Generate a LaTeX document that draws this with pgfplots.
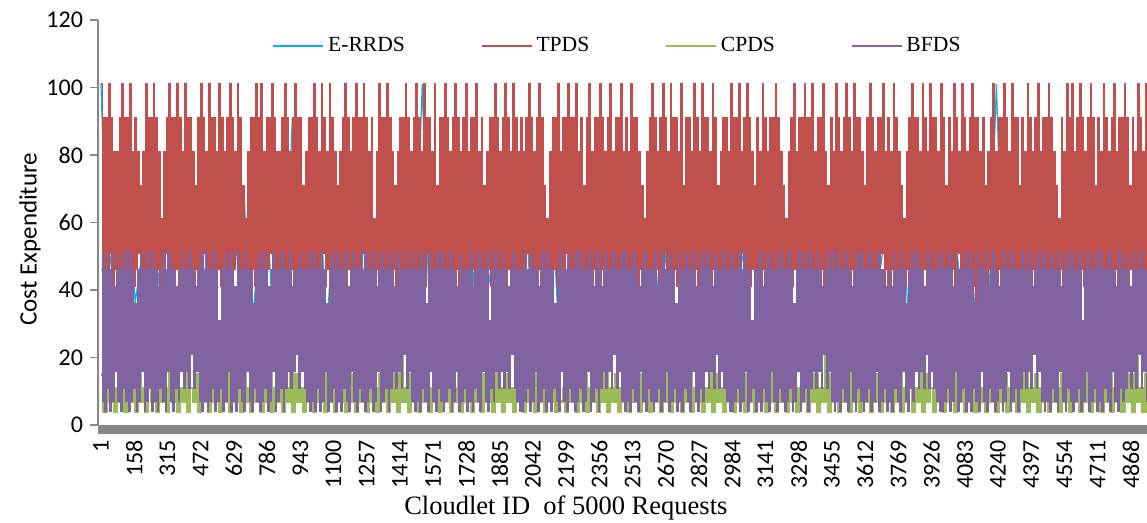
\documentclass[border=0pt]{standalone}
\usepackage{fontspec}
\setmainfont{Liberation Serif}
\newfontfamily\calib{Carlito}
\usepackage{pgfplots}
\usepackage{pgfplotstable}
\pgfplotsset{compat=1.18}
\definecolor{cErrds}{RGB}{0,176,240}
\definecolor{cTpds}{RGB}{192,80,77}
\definecolor{cCpds}{RGB}{155,187,89}
\definecolor{cBfds}{RGB}{128,100,162}
\definecolor{axgray}{RGB}{134,134,134}

\pgfplotstableread[header=false,row sep=\\]{
101\\ 41\\ 61\\ 26\\ 81\\ 36\\ 51\\ 71\\ 31\\ 61\\ 46\\ 91\\ 36\\ 56\\ 21\\ 71\\ 41\\ 61\\ 31\\ 81\\
46\\ 66\\ 26\\ 51\\ 76\\ 36\\ 61\\ 41\\ 91\\ 31\\ 56\\ 46\\ 71\\ 26\\ 61\\ 36\\ 81\\ 41\\ 51\\ 66\\
31\\ 71\\ 46\\ 56\\ 21\\ 61\\ 41\\ 101\\ 36\\ 51\\ 66\\ 31\\ 76\\ 46\\ 61\\ 26\\ 56\\ 41\\ 81\\ 36\\
61\\ 46\\ 71\\ 31\\ 51\\ 41\\ 66\\ 26\\ 91\\ 46\\ 56\\ 36\\ 71\\ 41\\ 61\\ 31\\ 81\\ 46\\ 51\\ 36\\
66\\ 26\\ 61\\ 41\\ 76\\ 31\\ 56\\ 46\\ 71\\ 36\\ 61\\ 21\\ 81\\ 41\\ 51\\ 66\\ 31\\ 91\\ 46\\ 56\\
36\\ 71\\ 41\\ 61\\ 26\\ 81\\ 46\\ 51\\ 36\\ 66\\ 31\\ 56\\ 41\\ 76\\ 46\\ 61\\ 26\\ 71\\ 36\\ 51\\
41\\ 81\\ 31\\ 61\\ 46\\ 56\\ 36\\ 71\\ 26\\ 61\\ 41\\ 101\\ 36\\ 51\\
}\errds

\pgfplotstableread[header=false,row sep=\\]{
101\\ 46\\ 91\\ 41\\ 91\\ 46\\ 101\\ 51\\ 91\\ 41\\ 81\\ 46\\ 81\\ 41\\ 91\\ 46\\ 101\\ 36\\ 91\\ 46\\
91\\ 41\\ 101\\ 46\\ 81\\ 41\\ 91\\ 46\\ 81\\ 51\\ 71\\ 46\\ 81\\ 41\\ 101\\ 46\\ 91\\ 41\\ 91\\ 46\\
101\\ 41\\ 91\\ 46\\ 81\\ 41\\ 61\\ 46\\ 81\\ 51\\ 91\\ 41\\ 101\\ 46\\ 91\\ 36\\ 91\\ 46\\ 101\\ 41\\
91\\ 46\\ 81\\ 41\\ 101\\ 46\\ 91\\ 41\\ 91\\ 46\\ 81\\ 41\\ 71\\ 46\\ 91\\ 41\\ 101\\ 46\\ 91\\ 51\\
81\\ 46\\ 101\\ 41\\ 91\\ 46\\ 91\\ 41\\ 81\\ 46\\ 101\\ 41\\ 91\\ 46\\ 81\\ 31\\ 91\\ 46\\ 101\\ 41\\
91\\ 46\\ 81\\ 51\\ 101\\ 41\\ 91\\ 46\\ 71\\ 41\\ 61\\ 46\\ 81\\ 41\\ 91\\ 46\\ 91\\ 41\\ 101\\ 46\\
91\\ 41\\ 101\\ 46\\ 81\\ 41\\ 91\\ 46\\ 91\\ 51\\ 101\\ 41\\ 91\\ 46\\ 81\\ 41\\ 81\\ 46\\ 91\\ 41\\
101\\ 46\\ 91\\ 41\\ 81\\ 46\\ 91\\ 36\\ 101\\ 41\\ 91\\ 46\\ 91\\ 41\\ 71\\ 46\\ 81\\ 41\\ 91\\ 46\\
91\\ 41\\ 101\\ 46\\ 91\\ 41\\ 81\\ 46\\ 101\\ 51\\ 91\\ 41\\ 81\\ 46\\ 101\\ 41\\ 91\\ 46\\ 81\\ 41\\
71\\ 46\\ 81\\ 41\\ 91\\ 46\\ 101\\ 41\\ 91\\ 46\\ 81\\ 41\\ 91\\ 46\\ 101\\ 41\\ 91\\ 46\\ 91\\ 51\\
101\\ 41\\ 91\\ 46\\ 81\\ 41\\ 91\\ 46\\ 61\\ 41\\ 81\\ 46\\ 101\\ 41\\ 91\\ 46\\ 91\\ 36\\ 101\\ 46\\
91\\ 41\\ 81\\ 46\\ 71\\ 41\\ 81\\ 46\\ 91\\ 41\\ 91\\ 46\\ 101\\ 41\\ 91\\ 46\\ 81\\ 41\\ 91\\ 46\\
101\\ 46\\ 91\\ 41\\ 81\\ 46\\ 101\\ 41\\ 91\\ 51\\ 91\\ 46\\ 81\\ 41\\ 101\\ 46\\ 71\\ 41\\ 91\\ 46\\
91\\ 41\\ 101\\ 46\\ 91\\ 41\\ 81\\ 46\\ 91\\ 41\\ 101\\ 46\\ 91\\ 31\\ 81\\ 46\\ 91\\ 41\\ 101\\ 46\\
81\\ 41\\ 91\\ 46\\ 91\\ 41\\ 101\\ 46\\ 81\\ 41\\ 91\\ 46\\ 71\\ 41\\ 81\\ 46\\ 91\\ 41\\ 91\\ 46\\
101\\ 41\\ 91\\ 46\\ 81\\ 41\\ 91\\ 46\\ 101\\ 41\\ 91\\ 46\\ 81\\ 46\\ 101\\ 36\\ 91\\ 41\\ 81\\ 46\\
91\\ 41\\ 81\\ 46\\ 91\\ 51\\ 101\\ 41\\ 91\\ 46\\ 81\\ 41\\ 91\\ 46\\ 101\\ 41\\ 91\\ 46\\ 71\\ 41\\
61\\ 46\\ 81\\ 41\\ 91\\ 46\\ 91\\ 41\\ 101\\ 46\\ 81\\ 41\\ 91\\ 46\\ 91\\ 51\\ 101\\ 41\\ 91\\ 46\\
91\\ 41\\ 101\\ 46\\ 81\\ 41\\ 91\\ 46\\ 71\\ 41\\ 91\\ 46\\ 101\\ 41\\ 81\\ 46\\ 91\\ 41\\ 91\\ 46\\
101\\ 46\\ 91\\ 41\\ 81\\ 36\\ 91\\ 46\\ 101\\ 41\\ 81\\ 46\\ 91\\ 41\\ 91\\ 46\\ 101\\ 41\\ 81\\ 46\\
91\\ 41\\ 81\\ 46\\ 101\\ 41\\ 91\\ 46\\ 91\\ 41\\ 81\\ 46\\ 71\\ 41\\ 61\\ 46\\ 81\\ 41\\ 91\\ 46\\
101\\ 41\\ 91\\ 46\\ 81\\ 41\\ 91\\ 46\\ 101\\ 51\\ 91\\ 41\\ 81\\ 46\\ 101\\ 41\\ 91\\ 46\\ 91\\ 41\\
81\\ 46\\ 101\\ 41\\ 71\\ 46\\ 91\\ 41\\ 91\\ 46\\ 81\\ 41\\ 101\\ 46\\ 91\\ 41\\ 81\\ 46\\ 101\\ 41\\
91\\ 36\\ 91\\ 46\\ 81\\ 41\\ 101\\ 46\\ 91\\ 41\\ 71\\ 46\\ 81\\ 41\\ 91\\ 46\\ 91\\ 41\\ 81\\ 46\\
101\\ 41\\ 91\\ 46\\ 91\\ 41\\ 101\\ 46\\ 81\\ 51\\ 91\\ 41\\ 101\\ 46\\ 91\\ 41\\ 81\\ 46\\ 71\\ 41\\
91\\ 46\\ 81\\ 41\\ 101\\ 46\\ 91\\ 41\\ 81\\ 46\\ 91\\ 31\\ 91\\ 46\\ 101\\ 41\\ 91\\ 46\\ 81\\ 41\\
71\\ 46\\ 61\\ 41\\ 81\\ 46\\ 91\\ 41\\ 101\\ 46\\ 81\\ 41\\ 91\\ 46\\ 91\\ 41\\ 101\\ 46\\ 91\\ 41\\
91\\ 46\\ 101\\ 41\\ 81\\ 46\\ 91\\ 41\\ 91\\ 46\\ 101\\ 41\\ 81\\ 46\\ 71\\ 41\\ 91\\ 46\\ 81\\ 41\\
101\\ 46\\ 91\\ 41\\ 81\\ 46\\ 91\\ 41\\ 101\\ 46\\ 91\\ 36\\ 81\\ 46\\ 101\\ 41\\ 91\\ 46\\ 91\\ 41\\
81\\ 46\\ 71\\ 41\\ 91\\ 46\\ 101\\ 41\\ 91\\ 46\\ 81\\ 41\\ 91\\ 46\\ 91\\ 51\\ 101\\ 41\\ 81\\ 46\\
91\\ 41\\ 81\\ 46\\ 101\\ 41\\ 91\\ 46\\ 81\\ 41\\ 71\\ 46\\ 61\\ 41\\ 81\\ 46\\ 91\\ 41\\ 101\\ 46\\
91\\ 41\\ 91\\ 46\\ 81\\ 41\\ 101\\ 46\\ 91\\ 41\\ 81\\ 46\\ 101\\ 41\\ 91\\ 46\\ 91\\ 41\\ 81\\ 46\\
101\\ 46\\ 91\\ 41\\ 71\\ 46\\ 91\\ 41\\ 81\\ 46\\ 101\\ 41\\ 91\\ 51\\ 81\\ 46\\ 101\\ 41\\ 91\\ 46\\
81\\ 41\\ 91\\ 46\\ 101\\ 41\\ 91\\ 36\\ 91\\ 46\\ 81\\ 41\\ 91\\ 46\\ 71\\ 41\\ 81\\ 46\\ 91\\ 41\\
101\\ 46\\ 81\\ 41\\ 91\\ 46\\ 91\\ 41\\ 101\\ 46\\ 91\\ 41\\ 81\\ 46\\ 101\\ 41\\ 91\\ 31\\ 91\\ 46\\
71\\ 41\\ 91\\ 46\\ 81\\ 41\\ 101\\ 46\\ 91\\ 41\\ 81\\ 46\\ 91\\ 41\\ 101\\ 46\\ 81\\ 41\\ 91\\ 46\\
91\\ 41\\ 101\\ 46\\ 91\\ 41\\ 81\\ 46\\ 71\\ 41\\ 61\\ 46\\ 91\\ 41\\ 81\\ 46\\ 101\\ 41\\ 91\\ 46\\
101\\ 41\\ 81\\ 46\\ 91\\ 41\\ 101\\ 46\\ 91\\ 41\\ 81\\ 46\\ 91\\ 36\\ 101\\ 41\\ 91\\ 46\\ 71\\ 41\\
91\\ 46\\ 81\\ 41\\ 101\\ 46\\ 91\\ 41\\ 81\\ 46\\ 91\\ 41\\ 101\\ 46\\ 81\\ 41\\ 91\\ 46\\ 91\\ 41\\
101\\ 46\\ 91\\ 41\\ 71\\ 46\\ 91\\ 41\\ 81\\ 46\\ 101\\ 41\\ 91\\ 46\\ 81\\ 41\\ 101\\ 46\\ 91\\ 41\\
}\tpds

\pgfplotstableread[header=false,row sep=\\]{
15\\ 4\\ 11\\ 7\\ 20\\ 4\\ 11\\ 7\\ 15\\ 4\\ 25\\ 7\\ 11\\ 4\\ 15\\ 7\\ 11\\ 4\\ 20\\ 7\\
11\\ 4\\ 15\\ 7\\ 11\\ 4\\ 30\\ 7\\ 15\\ 4\\ 11\\ 7\\ 20\\ 4\\ 11\\ 7\\ 15\\ 4\\ 11\\ 7\\
20\\ 4\\ 11\\ 7\\ 15\\ 4\\ 11\\ 7\\ 25\\ 4\\ 15\\ 7\\ 11\\ 4\\ 20\\ 7\\ 11\\ 4\\ 15\\ 7\\
11\\ 4\\ 15\\ 7\\ 20\\ 4\\ 11\\ 7\\ 15\\ 4\\ 11\\ 7\\ 30\\ 4\\ 15\\ 7\\ 11\\ 4\\ 20\\ 7\\
15\\ 4\\ 11\\ 7\\ 15\\ 4\\ 25\\ 7\\ 11\\ 4\\ 15\\ 7\\ 11\\ 4\\ 20\\ 7\\ 15\\ 4\\ 11\\ 7\\
20\\ 4\\ 15\\ 7\\ 11\\ 4\\ 15\\ 7\\ 11\\ 4\\ 20\\ 7\\ 15\\ 4\\ 25\\ 7\\ 11\\ 4\\ 15\\ 7\\
11\\ 4\\ 20\\ 7\\ 15\\ 4\\ 11\\ 7\\ 30\\ 4\\ 11\\ 7\\ 15\\ 4\\ 11\\ 7\\ 20\\ 4\\ 15\\ 7\\
15\\ 4\\ 11\\ 7\\ 20\\ 4\\ 15\\ 7\\ 11\\ 4\\ 25\\ 7\\ 11\\ 4\\ 15\\ 7\\ 11\\ 4\\ 20\\ 7\\
11\\ 4\\ 15\\ 7\\ 11\\ 4\\ 20\\ 7\\ 15\\ 4\\ 11\\ 7\\ 15\\ 4\\ 30\\ 7\\ 11\\ 4\\ 15\\ 7\\
20\\ 4\\ 11\\ 7\\ 15\\ 4\\ 11\\ 7\\ 25\\ 4\\ 15\\ 7\\ 20\\ 4\\ 11\\ 7\\ 15\\ 4\\ 11\\ 7\\
15\\ 4\\ 20\\ 7\\ 11\\ 4\\ 15\\ 7\\ 11\\ 4\\ 20\\ 7\\ 15\\ 4\\ 11\\ 7\\ 25\\ 4\\ 15\\ 7\\
11\\ 4\\ 15\\ 7\\ 30\\ 4\\ 11\\ 7\\ 15\\ 4\\ 11\\ 7\\ 20\\ 4\\ 15\\ 7\\ 11\\ 4\\ 20\\ 7\\
15\\ 4\\ 11\\ 7\\ 20\\ 4\\ 15\\ 7\\ 11\\ 4\\ 25\\ 7\\ 11\\ 4\\ 15\\ 7\\ 20\\ 4\\ 11\\ 7\\
20\\ 4\\ 15\\ 7\\ 11\\ 4\\ 11\\ 7\\ 15\\ 4\\ 20\\ 7\\ 15\\ 4\\ 11\\ 7\\ 30\\ 4\\ 15\\ 7\\
11\\ 4\\ 20\\ 7\\ 15\\ 4\\ 25\\ 7\\ 11\\ 4\\ 15\\ 7\\ 11\\ 4\\ 20\\ 7\\ 15\\ 4\\ 11\\ 7\\
15\\ 4\\ 11\\ 7\\ 20\\ 4\\ 11\\ 7\\ 15\\ 4\\ 11\\ 7\\ 25\\ 4\\ 15\\ 7\\ 11\\ 4\\ 20\\ 7\\
11\\ 4\\ 15\\ 7\\ 11\\ 4\\ 30\\ 7\\ 15\\ 4\\ 20\\ 7\\ 11\\ 4\\ 15\\ 7\\ 11\\ 4\\ 15\\ 7\\
20\\ 4\\ 11\\ 7\\ 15\\ 4\\ 11\\ 7\\ 20\\ 4\\ 15\\ 7\\ 25\\ 4\\ 11\\ 7\\ 15\\ 4\\ 11\\ 7\\
15\\ 4\\ 20\\ 7\\ 11\\ 4\\ 15\\ 7\\ 11\\ 4\\ 20\\ 7\\ 15\\ 4\\ 11\\ 7\\ 25\\ 4\\ 15\\ 7\\
11\\ 4\\ 15\\ 7\\ 20\\ 4\\ 11\\ 7\\ 30\\ 4\\ 11\\ 7\\ 15\\ 4\\ 20\\ 7\\ 11\\ 4\\ 15\\ 7\\
}\cpds

\pgfplotstableread[header=false,row sep=\\]{
46\\ 7\\ 51\\ 4\\ 46\\ 11\\ 46\\ 4\\ 51\\ 7\\ 41\\ 16\\ 46\\ 7\\ 51\\ 4\\ 46\\ 11\\ 51\\ 7\\
46\\ 4\\ 51\\ 7\\ 46\\ 11\\ 36\\ 4\\ 46\\ 7\\ 51\\ 16\\ 46\\ 4\\ 46\\ 7\\ 51\\ 11\\ 46\\ 4\\
51\\ 7\\ 46\\ 4\\ 41\\ 11\\ 46\\ 7\\ 51\\ 4\\ 46\\ 16\\ 51\\ 7\\ 46\\ 4\\ 46\\ 11\\ 41\\ 7\\
46\\ 16\\ 51\\ 11\\ 46\\ 16\\ 46\\ 11\\ 51\\ 21\\ 46\\ 11\\ 41\\ 16\\ 46\\ 7\\ 51\\ 4\\ 46\\ 7\\
51\\ 4\\ 46\\ 7\\ 46\\ 11\\ 51\\ 4\\ 46\\ 7\\ 31\\ 11\\ 46\\ 4\\ 51\\ 7\\ 46\\ 16\\ 51\\ 4\\
46\\ 7\\ 41\\ 4\\ 51\\ 11\\ 46\\ 7\\ 46\\ 4\\ 51\\ 16\\ 46\\ 7\\ 46\\ 4\\ 36\\ 11\\ 46\\ 7\\
51\\ 4\\ 46\\ 7\\ 51\\ 11\\ 46\\ 4\\ 41\\ 7\\ 46\\ 16\\ 51\\ 4\\ 46\\ 7\\ 46\\ 11\\ 51\\ 4\\
46\\ 11\\ 46\\ 16\\ 51\\ 11\\ 41\\ 16\\ 46\\ 21\\ 46\\ 11\\ 51\\ 16\\ 46\\ 11\\ 46\\ 7\\ 51\\ 4\\
46\\ 7\\ 51\\ 4\\ 46\\ 11\\ 46\\ 4\\ 51\\ 7\\ 46\\ 16\\ 36\\ 4\\ 46\\ 7\\ 51\\ 11\\ 46\\ 4\\
51\\ 7\\ 46\\ 4\\ 46\\ 11\\ 51\\ 7\\ 41\\ 4\\ 46\\ 16\\ 51\\ 7\\ 46\\ 4\\ 46\\ 11\\ 51\\ 7\\
46\\ 4\\ 51\\ 7\\ 46\\ 11\\ 46\\ 4\\ 51\\ 7\\ 41\\ 16\\ 46\\ 4\\ 51\\ 7\\ 46\\ 11\\ 46\\ 4\\
51\\ 11\\ 46\\ 16\\ 41\\ 11\\ 51\\ 16\\ 46\\ 11\\ 46\\ 21\\ 51\\ 11\\ 46\\ 16\\ 46\\ 7\\ 51\\ 4\\
46\\ 7\\ 46\\ 4\\ 51\\ 11\\ 46\\ 7\\ 36\\ 4\\ 51\\ 16\\ 46\\ 7\\ 46\\ 4\\ 51\\ 11\\ 46\\ 7\\
51\\ 4\\ 46\\ 7\\ 46\\ 11\\ 51\\ 4\\ 46\\ 7\\ 46\\ 16\\ 41\\ 4\\ 51\\ 7\\ 46\\ 11\\ 46\\ 4\\
46\\ 7\\ 51\\ 4\\ 41\\ 11\\ 46\\ 7\\ 51\\ 4\\ 46\\ 16\\ 46\\ 7\\ 51\\ 4\\ 31\\ 11\\ 46\\ 7\\
51\\ 16\\ 46\\ 11\\ 46\\ 16\\ 51\\ 11\\ 46\\ 16\\ 41\\ 11\\ 46\\ 21\\ 51\\ 11\\ 46\\ 7\\ 46\\ 4\\
46\\ 4\\ 51\\ 7\\ 46\\ 11\\ 46\\ 4\\ 51\\ 7\\ 46\\ 16\\ 46\\ 4\\ 41\\ 7\\ 51\\ 11\\ 46\\ 4\\
51\\ 7\\ 46\\ 4\\ 46\\ 11\\ 36\\ 7\\ 46\\ 4\\ 51\\ 16\\ 46\\ 7\\ 46\\ 4\\ 51\\ 11\\ 46\\ 7\\
46\\ 4\\ 51\\ 7\\ 46\\ 11\\ 51\\ 4\\ 46\\ 7\\ 46\\ 16\\ 51\\ 4\\ 46\\ 7\\ 41\\ 11\\ 51\\ 4\\
46\\ 11\\ 41\\ 16\\ 51\\ 11\\ 46\\ 16\\ 46\\ 11\\ 51\\ 21\\ 46\\ 11\\ 46\\ 16\\ 51\\ 7\\ 46\\ 4\\
51\\ 7\\ 46\\ 4\\ 46\\ 11\\ 51\\ 7\\ 46\\ 4\\ 41\\ 16\\ 46\\ 7\\ 51\\ 4\\ 46\\ 11\\ 46\\ 7\\
46\\ 4\\ 51\\ 7\\ 41\\ 11\\ 46\\ 4\\ 51\\ 7\\ 46\\ 16\\ 46\\ 4\\ 51\\ 7\\ 46\\ 11\\ 36\\ 4\\
51\\ 7\\ 46\\ 4\\ 46\\ 11\\ 51\\ 7\\ 46\\ 4\\ 46\\ 16\\ 51\\ 7\\ 41\\ 4\\ 46\\ 11\\ 51\\ 7\\
46\\ 16\\ 51\\ 11\\ 46\\ 16\\ 41\\ 11\\ 51\\ 21\\ 46\\ 11\\ 46\\ 16\\ 51\\ 11\\ 46\\ 7\\ 46\\ 4\\
51\\ 4\\ 46\\ 7\\ 46\\ 11\\ 51\\ 4\\ 46\\ 7\\ 51\\ 16\\ 46\\ 4\\ 46\\ 7\\ 31\\ 11\\ 46\\ 4\\
46\\ 7\\ 51\\ 4\\ 41\\ 11\\ 46\\ 7\\ 51\\ 4\\ 46\\ 16\\ 46\\ 7\\ 51\\ 4\\ 46\\ 11\\ 51\\ 7\\
46\\ 4\\ 46\\ 7\\ 51\\ 11\\ 46\\ 4\\ 36\\ 7\\ 46\\ 16\\ 51\\ 4\\ 46\\ 7\\ 51\\ 11\\ 46\\ 4\\
51\\ 11\\ 46\\ 16\\ 46\\ 11\\ 51\\ 16\\ 46\\ 11\\ 41\\ 21\\ 46\\ 11\\ 51\\ 16\\ 46\\ 7\\ 51\\ 4\\
46\\ 7\\ 51\\ 4\\ 46\\ 11\\ 46\\ 7\\ 51\\ 4\\ 46\\ 16\\ 41\\ 7\\ 46\\ 4\\ 51\\ 11\\ 46\\ 7\\
51\\ 4\\ 46\\ 7\\ 46\\ 11\\ 51\\ 4\\ 46\\ 7\\ 46\\ 16\\ 51\\ 4\\ 46\\ 7\\ 46\\ 11\\ 41\\ 4\\
46\\ 7\\ 41\\ 4\\ 51\\ 11\\ 46\\ 7\\ 46\\ 4\\ 51\\ 16\\ 46\\ 7\\ 36\\ 4\\ 46\\ 11\\ 51\\ 7\\
46\\ 16\\ 51\\ 11\\ 46\\ 16\\ 46\\ 11\\ 41\\ 21\\ 51\\ 11\\ 46\\ 16\\ 46\\ 11\\ 51\\ 7\\ 46\\ 4\\
51\\ 4\\ 46\\ 7\\ 46\\ 11\\ 51\\ 4\\ 46\\ 7\\ 41\\ 16\\ 51\\ 4\\ 46\\ 7\\ 46\\ 11\\ 51\\ 4\\
46\\ 7\\ 51\\ 4\\ 46\\ 11\\ 36\\ 7\\ 51\\ 4\\ 46\\ 16\\ 46\\ 7\\ 51\\ 4\\ 41\\ 11\\ 46\\ 7\\
51\\ 4\\ 46\\ 7\\ 41\\ 11\\ 46\\ 4\\ 51\\ 7\\ 46\\ 16\\ 46\\ 4\\ 51\\ 7\\ 46\\ 11\\ 46\\ 4\\
46\\ 11\\ 51\\ 16\\ 46\\ 11\\ 46\\ 16\\ 51\\ 11\\ 41\\ 21\\ 46\\ 11\\ 51\\ 16\\ 46\\ 7\\ 51\\ 4\\
46\\ 7\\ 46\\ 4\\ 51\\ 11\\ 46\\ 7\\ 46\\ 4\\ 51\\ 16\\ 41\\ 7\\ 46\\ 4\\ 51\\ 11\\ 46\\ 7\\
51\\ 4\\ 46\\ 7\\ 46\\ 11\\ 51\\ 4\\ 31\\ 7\\ 46\\ 16\\ 51\\ 4\\ 46\\ 7\\ 46\\ 11\\ 51\\ 4\\
46\\ 7\\ 51\\ 4\\ 46\\ 11\\ 46\\ 7\\ 51\\ 4\\ 46\\ 16\\ 46\\ 7\\ 41\\ 4\\ 51\\ 11\\ 46\\ 7\\
51\\ 11\\ 46\\ 16\\ 41\\ 11\\ 51\\ 16\\ 46\\ 11\\ 46\\ 21\\ 51\\ 11\\ 46\\ 16\\ 46\\ 7\\ 46\\ 4\\
}\bfds

\begin{document}
\begin{tikzpicture}
\begin{axis}[
  at={(0,0)}, anchor=south west,
  scale only axis, width=524.5bp, height=202.5bp,
  xmin=-13, xmax=4944, ymin=0, ymax=120,
  axis lines=left, axis line style={-},
  x axis line style={draw=axgray, line width=4.5bp, yshift=-2.25bp},
  y axis line style={draw=axgray, line width=0.9bp},
  ytick={0,20,...,120},
  xtick={1,158,315,472,629,786,943,1100,1257,1414,1571,1728,1885,2042,2199,2356,2513,2670,2827,2984,3141,3298,3455,3612,3769,3926,4083,4240,4397,4554,4711,4868},
  xticklabels={1,158,315,472,629,786,943,1100,1257,1414,1571,1728,1885,2042,2199,2356,2513,2670,2827,2984,3141,3298,3455,3612,3769,3926,4083,4240,4397,4554,4711,4868},
  tick align=outside,
  major tick length=4bp,
  ytick style={draw=axgray, line width=0.9bp},
  xtick style={draw=none},
  ticklabel style={font=\calib\fontsize{12bp}{14bp}\selectfont},
  /pgf/number format/assume math mode=true,
  xticklabel style={rotate=90, anchor=east},
  ylabel={Cost Expenditure},
  ylabel style={font=\calib\fontsize{12.5bp}{15bp}\selectfont, at={(axis description cs:-0.0648,0.459)}, anchor=center},
  xlabel={Cloudlet ID\ \ of 5000 Requests},
  xlabel style={font=\fontsize{13.25bp}{16bp}\selectfont, at={(axis description cs:0.446,-0.205)}, anchor=center},
  legend columns=4,
  legend style={draw=none, fill=none, inner sep=0pt, at={(axis description cs:0.166,0.9365)}, anchor=west,
    font=\fontsize{10.8bp}{12bp}\selectfont,
    /tikz/every even column/.append style={column sep=36bp}},
]
\addplot[draw=cErrds, line width=0.6bp, line join=bevel, no markers, forget plot] table[x expr=\coordindex*32.3+1, y index=0] {\errds};
\addplot[draw=cTpds, line width=0.72bp, const plot, no markers, forget plot] table[x expr=\coordindex*6.2+1, y index=0] {\tpds};
\addplot[draw=cCpds, line width=1.3bp, const plot, no markers, forget plot] table[x expr=\coordindex*12.4+1, y index=0] {\cpds};
\addplot[draw=cBfds, line width=0.72bp, const plot, no markers, forget plot] table[x expr=\coordindex*6.2+1, y index=0] {\bfds};
\addlegendimage{legend image code/.code={\draw[draw=cErrds, line width=0.8bp] (0bp,0bp) -- (25bp,0bp);}}
\addlegendentry{E-RRDS}
\addlegendimage{legend image code/.code={\draw[draw=cTpds, line width=0.8bp] (0bp,0bp) -- (25bp,0bp);}}
\addlegendentry{TPDS}
\addlegendimage{legend image code/.code={\draw[draw=cCpds, line width=0.8bp] (0bp,0bp) -- (25bp,0bp);}}
\addlegendentry{CPDS}
\addlegendimage{legend image code/.code={\draw[draw=cBfds, line width=0.8bp] (0bp,0bp) -- (25bp,0bp);}}
\addlegendentry{BFDS}
\end{axis}
\pgfresetboundingbox
\path[use as bounding box] (-49bp,-49bp) rectangle (524.5bp,212.5bp);
\end{tikzpicture}
\end{document}
